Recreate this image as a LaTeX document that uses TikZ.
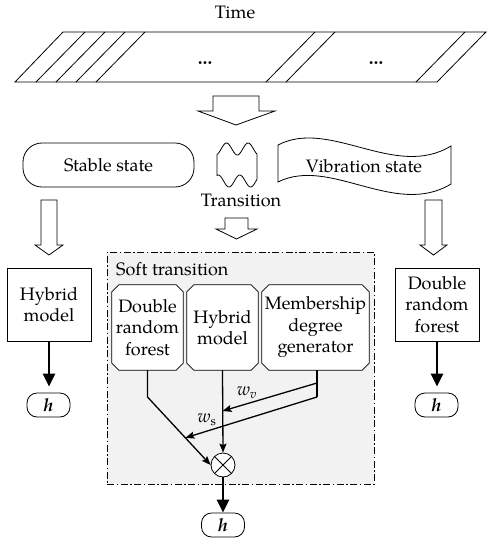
\documentclass[tikz,border=0pt]{standalone}
\usepackage{fontspec}
\setmainfont{texgyrepagella}[Extension=.otf, UprightFont=*-regular, BoldFont=*-bold, ItalicFont=*-italic, BoldItalicFont=*-bolditalic]
\usetikzlibrary{arrows.meta,calc}
\pgfdeclarelayer{bglayer}
\pgfdeclarelayer{midlayer}
\pgfsetlayers{bglayer,midlayer,main}
\tikzset{
 lbl/.style={font=\fontsize{18pt}{21.5pt}\selectfont, align=center},
 plainbox/.style={lbl, draw, line width=0.8pt, minimum width=84pt, minimum height=73pt, inner sep=0pt},
 chbox/.style={lbl, minimum height=85pt, inner sep=0pt},
 chamfline/.style={line width=0.8pt, fill=white},
 hbox/.style={lbl, draw, fill=white, rounded corners=10pt, minimum width=43pt, minimum height=24pt, inner sep=0pt, line width=0.8pt},
 hollow/.style={draw, line width=0.8pt, fill=white},
 shapeline/.style={draw, line width=0.8pt},
 conn/.style={line width=1.3pt, -{Stealth[length=9pt,width=7pt,inset=1.5pt]}},
 plainline/.style={line width=1.3pt},
 thickarr/.style={line width=2.4pt, -{Triangle[length=13pt,width=12pt]}},
 softbox/.style={draw, fill=gray!10, line width=0.9pt, dash pattern=on 7pt off 2.5pt on 1.5pt off 2.5pt, minimum width=267pt, minimum height=232pt, inner sep=0pt},
 crossnode/.style={draw, fill=white, circle, minimum size=24pt, inner sep=0pt, line width=0.8pt},
}
\begin{document}
\begin{tikzpicture}[x=1pt,y=-1pt]
\useasboundingbox (0,0) rectangle (492,550);
% time strip
\node[lbl, anchor=base] (time) at (235,18.3) {Time};
\draw[shapeline] (63,32) -- (486,32) -- (437,82) -- (15,82) -- cycle;
\foreach \t in {85,105,125,145,315,335,465}{
  \draw[shapeline] (\t,32) -- ({\t-49},82);
}
\node[lbl, anchor=base] (dots1) at (205,64) {\textbf{\dots}};
\node[lbl, anchor=base] (dots2) at (376,64) {\textbf{\dots}};
% main hollow arrow
\draw[hollow] (213,96) -- (259,96) -- (259,111) -- (275,111) -- (236,125) -- (198,111) -- (213,111) -- cycle;
% states
\node[lbl, draw, line width=0.8pt, rounded corners=19pt, minimum width=171pt, minimum height=44pt] (stable) at (108.5,165) {Stable state};
\draw[shapeline] plot[domain=217:257, samples=41, smooth] (\x,{149-6*cos(360*(\x-226.5)/21.6)})
  -- plot[domain=257:217, samples=41, smooth] (\x,{181+6*cos(360*(\x-229)/21.6)}) -- cycle;
\node[lbl] (trans) at (241,200) {Transition};
\draw[shapeline] (278,145) .. controls (330,118) and (395,180) .. (451,146) -- (451,184)
  .. controls (395,218) and (330,156) .. (278,182) -- cycle;
\node[lbl] (vib) at (364,166) {Vibration state};
% side hollow arrows
\draw[hollow] (41,200) -- (57,200) -- (57,245) -- (63,245) -- (49,255) -- (35,245) -- (41,245) -- cycle;
\draw[hollow] (425,200) -- (442,200) -- (442,245) -- (447,245) -- (433.5,255) -- (420,245) -- (425,245) -- cycle;
\draw[hollow] (225,218) -- (248,218) -- (248,229) -- (257,229) -- (236.5,239) -- (216,229) -- (225,229) -- cycle;
% side boxes
\node[plainbox] (hyb) at (49,304.5) {Hybrid\\model};
\node[hbox] (h1) at (48.5,405) {\textbf{\textit{h}}};
\node[plainbox] (drf) at (437,304.5) {Double\\random\\forest};
\node[hbox] (h3) at (436.5,405) {\textbf{\textit{h}}};
\draw[thickarr, shorten >=6pt] (hyb.south) -- (hyb.south |- h1.north);
\draw[thickarr, shorten >=6pt] (drf.south) -- (drf.south |- h3.north);
% soft transition
\begin{pgfonlayer}{bglayer}
\node[softbox] (soft) at (240.5,368) {};
\end{pgfonlayer}
\node[lbl, anchor=base west, inner sep=0pt] (softlbl) at (116,275) {Soft transition};
\node[chbox, minimum width=71pt] (b1) at (147.5,327.5) {Double\\random\\forest};
\node[chbox, minimum width=71pt] (b2) at (222.5,327.5) {Hybrid\\model};
\node[chbox, minimum width=107pt] (b3) at (315.5,327.5) {Membership\\degree\\generator};
\begin{pgfonlayer}{midlayer}
\foreach \n in {b1,b2,b3}{
  \draw[chamfline] ([xshift=7pt]\n.north west) -- ([xshift=-7pt]\n.north east) -- ([yshift=-7pt]\n.north east)
    -- ([yshift=7pt]\n.south east) -- ([xshift=-7pt]\n.south east) -- ([xshift=7pt]\n.south west)
    -- ([yshift=7pt]\n.south west) -- ([yshift=-7pt]\n.north west) -- cycle;
}
\end{pgfonlayer}
\node[crossnode] (x) at (223,465) {};
\draw[line width=0.8pt] (x.45) -- (x.225) (x.135) -- (x.315);
\node[hbox] (h2) at (223,525) {\textbf{\textit{h}}};
\coordinate (c1) at (147.5,397);
\coordinate (m1) at (317,383);
\coordinate (m2) at (317,397);
\coordinate (t1) at (222.5,411);
\coordinate (t2) at ($(c1)!0.6!(x.west)$);
\draw[conn] (b1.south) -- (c1) -- (x.west);
\draw[conn] (b2.south) -- (x.north);
\draw[plainline] ([xshift=1.5pt]b3.south) -- (m2);
\draw[conn] (m1) -- (t1);
\draw[conn] (m2) -- (t2);
\node[lbl] (wv) at (247,393) {\textit{w}\textsubscript{\textit{v}}};
\node[lbl] (ws) at (207,420) {\textit{w}\textsubscript{s}};
\draw[thickarr] (x.south) -- (h2.north);
\end{tikzpicture}
\end{document}
